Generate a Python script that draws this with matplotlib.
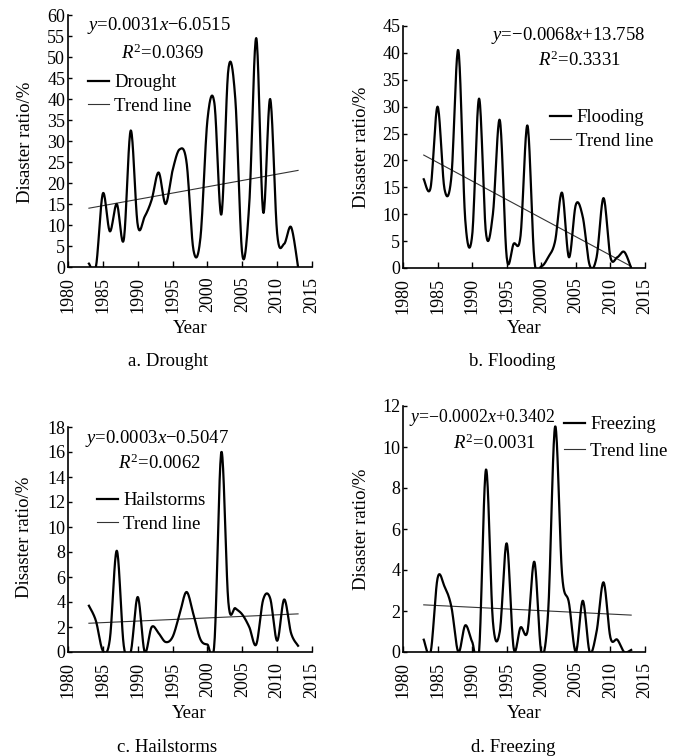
import numpy as np
import matplotlib
matplotlib.use("Agg")
import matplotlib.pyplot as plt
from matplotlib.lines import Line2D

plt.rcParams["font.family"] = ["Liberation Serif", "DejaVu Serif"]
plt.rcParams["mathtext.fontset"] = "custom"
plt.rcParams["mathtext.rm"] = "Liberation Serif"
plt.rcParams["mathtext.it"] = "Liberation Serif:italic"

years = list(range(1983, 2014))

drought = [0.8, 0, 17.5, 8.5, 15, 6.5, 32.5, 10, 12, 16, 22.5, 15, 23, 28, 25, 4,
           7, 35, 39, 12.5, 47, 40, 3, 15, 54.5, 13, 40, 8, 5.5, 9.5, 0]
flooding = [16.5, 15, 30, 14.7, 17, 40.5, 9, 6, 31.5, 6.5, 10, 27.5, 2, 4.5, 6, 26.5,
            1.5, 0.3, 2, 5, 14, 2, 11.8, 9.5, 0.5, 2, 13, 2, 2, 3, 0]
hailstorms = [3.7, 2.5, 0.1, 1, 8.1, 0.5, 0, 4.4, 0, 2, 1.5, 0.8, 1.2, 3, 4.8, 3,
              1, 0.6, 0.7, 16, 4, 3.5, 3, 2, 0.6, 4.2, 4.3, 0.9, 4.2, 1.5, 0.5]
freezing = [0.6, 0, 3.6, 3.2, 2.2, 0, 1.3, 0.5, 0, 8.9, 1.5, 1.0, 5.3, 0.2, 1.2, 1.0,
            4.4, 0, 2.0, 11, 3.8, 2.4, 0, 2.5, 0, 1.0, 3.4, 0.7, 0.6, 0, 0.1]

# trend line end values (1983, 2013)
trend_drought = [14, 23]
trend_flooding = [21, 0.3]
trend_hailstorms = [2.3, 3.05]
trend_freezing = [2.3, 1.8]

names = ["Drought", "Flooding", "Hailstorms", "Freezing"]
captions = ["a. Drought", "b. Flooding", "c. Hailstorms", "d. Freezing"]
equations = [r"$y$=0.0031$x$$-$6.0515", r"$y$=$-$0.0068$x$+13.758",
             r"$y$=0.0003$x$$-$0.5047", r"$y$=$-$0.0002$x$+0.3402"]
r2_texts = [r"$R^2$=0.0369", r"$R^2$=0.3331", r"$R^2$=0.0062", r"$R^2$=0.0031"]
y_max = [60, 45, 18, 12]
y_step = [5, 5, 2, 2]

W, H = 677, 756


def smooth(x, y, n=20):
    # catmull-rom, like the smoothed lines in excel
    x = np.asarray(x, float)
    y = np.asarray(y, float)
    px = np.concatenate([[x[0]], x, [x[-1]]])
    py = np.concatenate([[y[0]], y, [y[-1]]])
    xs, ys = [], []
    t = np.linspace(0, 1, n, endpoint=False)
    for i in range(1, len(px) - 2):
        for p, out in ((px, xs), (py, ys)):
            p0, p1, p2, p3 = p[i - 1], p[i], p[i + 1], p[i + 2]
            out.extend(0.5 * (2 * p1 + (-p0 + p2) * t + (2 * p0 - 5 * p1 + 4 * p2 - p3) * t ** 2
                              + (-p0 + 3 * p1 - 3 * p2 + p3) * t ** 3))
    xs.append(x[-1])
    ys.append(y[-1])
    return np.array(xs), np.array(ys)


def fx(px):
    return px / W


def fy(py):
    return 1 - py / H


fig = plt.figure(figsize=(W / 100, H / 100), dpi=100)

# axes boxes in pixels: left, right, top, bottom
boxes = [(68, 312, 15, 267), (403, 645, 26, 268), (68, 312, 427, 652), (403, 645, 406, 652)]
series = [drought, flooding, hailstorms, freezing]
trends = [trend_drought, trend_flooding, trend_hailstorms, trend_freezing]
ylabel_pos = [(26, 142), (361, 147), (25, 537), (362, 529)]
year_pos = [(190, 329), (524, 329), (189, 714), (524, 714)]
cap_pos = [(168, 362), (512, 362), (167, 747), (513, 747)]
eq_pos = [(87, 25, "left"), (645, 35, "right"), (85, 438, "left"), (409, 418, "left")]
eq_size = [13.5, 13.5, 13.5, 12.8]
r2_pos = [(121, 53), (538, 60), (118, 463), (453, 443)]
leg_pos = [(88, 74), (550, 109), (97, 492), (564, 416)]
leg_space = [0.35, 0.35, 0.35, 0.5]

for i in range(4):
    l, r, t, b = boxes[i]
    ax = fig.add_axes([fx(l), fy(b), (r - l) / W, (b - t) / H])
    sx, sy = smooth(years, series[i])
    ax.plot(sx, sy, color="black", lw=1.6, zorder=3)
    ax.plot([years[0], years[-1]], trends[i], color="#333333", lw=0.8, zorder=2)

    ax.set_xlim(1980, 2015)
    ax.set_ylim(0, y_max[i])
    ax.set_xticks(range(1980, 2016, 5))
    ax.set_yticks(np.arange(0, y_max[i] + 1, y_step[i]))
    ax.tick_params(axis="x", direction="in", length=4, width=1, labelsize=13,
                   rotation=90, pad=7)
    ax.tick_params(axis="y", direction="in", length=3, width=1, labelsize=13, pad=2)
    ax.spines["top"].set_visible(False)
    ax.spines["right"].set_visible(False)
    ax.spines["left"].set_linewidth(1.2)
    ax.spines["bottom"].set_linewidth(1.2)
    ax.patch.set_alpha(0)

    handles = [Line2D([], [], color="black", lw=1.6), Line2D([], [], color="#333333", lw=0.8)]
    ax.legend(handles, [names[i], "Trend line"], loc="upper left",
              bbox_to_anchor=(fx(leg_pos[i][0]), fy(leg_pos[i][1])),
              bbox_transform=fig.transFigure, frameon=False, fontsize=13.5,
              borderpad=0, borderaxespad=0, handlelength=1.1, handletextpad=0.3,
              labelspacing=leg_space[i])

    ex, ey, eha = eq_pos[i]
    fig.text(fx(ex), fy(ey), equations[i], fontsize=eq_size[i], ha=eha, va="center")
    fig.text(fx(r2_pos[i][0]), fy(r2_pos[i][1]), r2_texts[i], fontsize=13.5, ha="left", va="center")
    fig.text(fx(ylabel_pos[i][0]), fy(ylabel_pos[i][1]), "Disaster ratio/%", fontsize=13.5,
             rotation=90, ha="center", va="center")
    fig.text(fx(year_pos[i][0]), fy(year_pos[i][1]), "Year", fontsize=13.5, ha="center", va="center")
    fig.text(fx(cap_pos[i][0]), fy(cap_pos[i][1]), captions[i], fontsize=13.5, ha="center", va="center")

plt.savefig("out.png", dpi=100)
plt.close()
